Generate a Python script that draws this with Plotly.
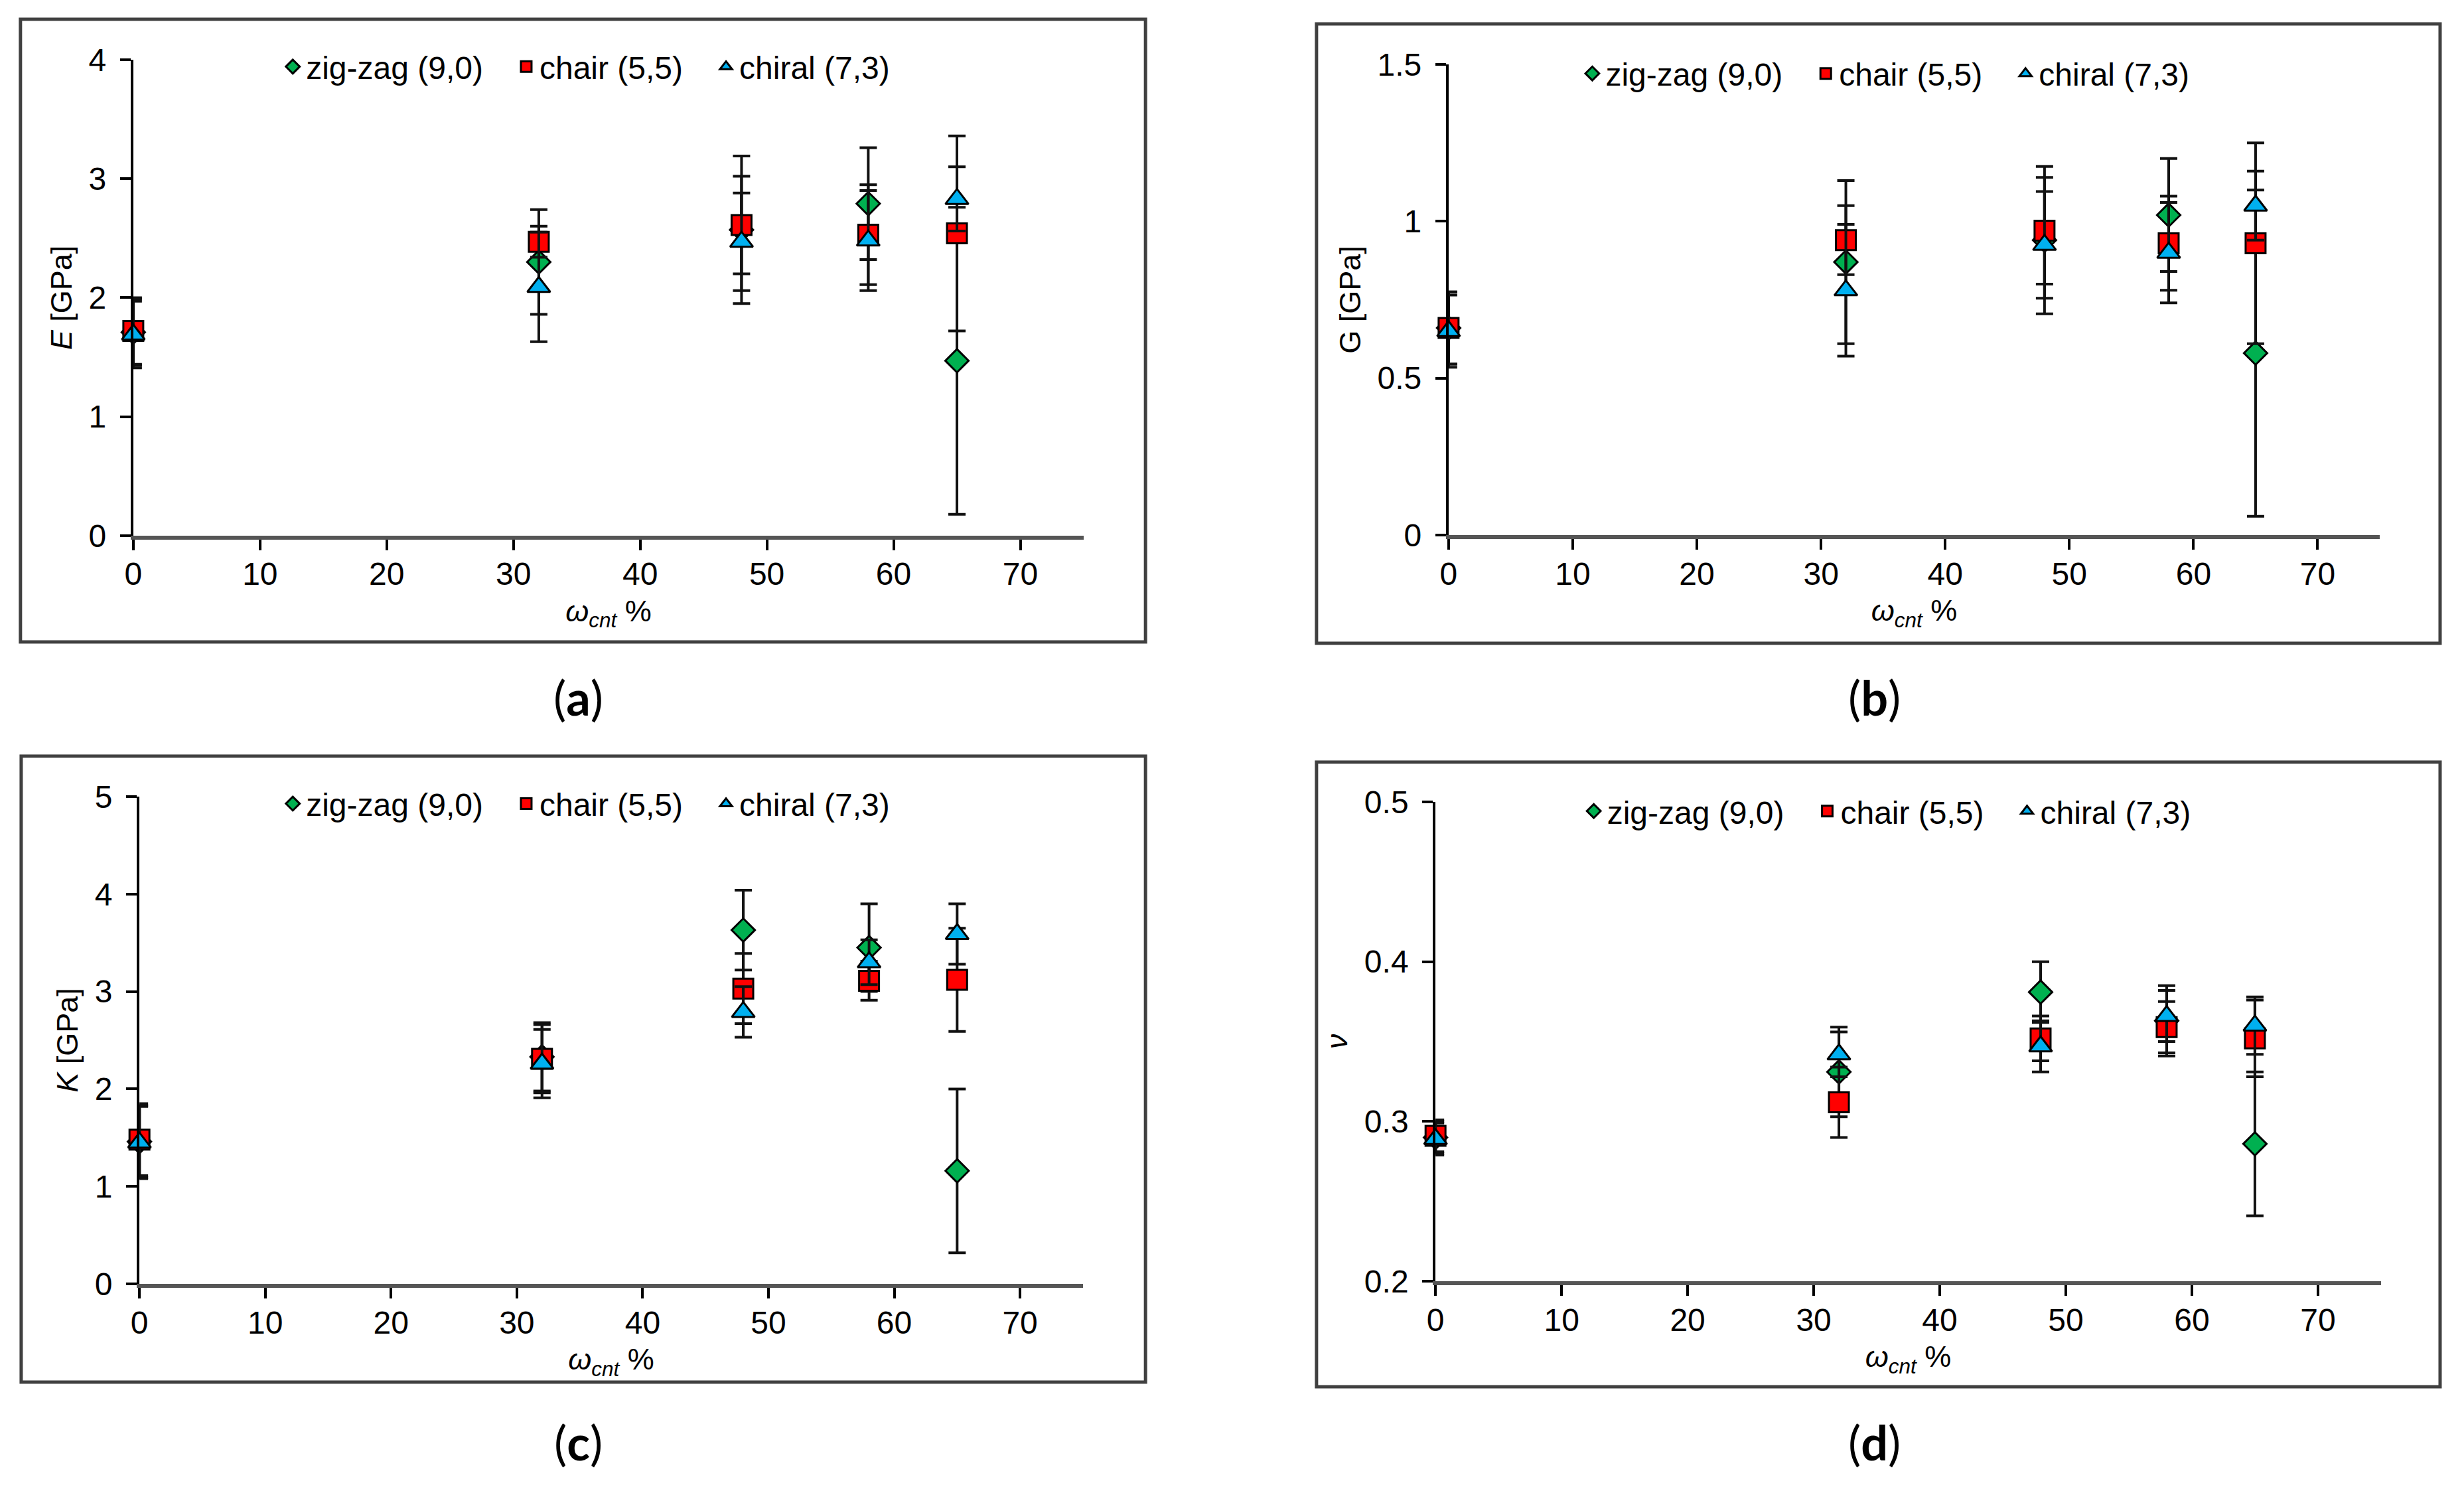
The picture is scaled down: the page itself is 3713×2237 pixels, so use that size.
import plotly.graph_objects as go
from plotly.subplots import make_subplots

# CNT mass fraction (%)
x_cnt = [0, 32, 48, 58, 65]

series_names = ["zig-zag (9,0)", "chair (5,5)", "chiral (7,3)"]

# (a) Young's modulus E [GPa]
E_zigzag = [1.71, 2.30, 2.57, 2.79, 1.47]
E_zigzag_err = [0.28, 0.44, 0.62, 0.47, 1.29]
E_chair = [1.72, 2.47, 2.61, 2.53, 2.54]
E_chair_err = [0.28, 0.13, 0.41, 0.42, 0.82]
E_chiral = [1.69, 2.09, 2.47, 2.48, 2.83]
E_chiral_err = [0.28, 0.46, 0.41, 0.42, 0.27]

# (b) Shear modulus G [GPa]
G_zigzag = [0.66, 0.87, 0.94, 1.02, 0.58]
G_zigzag_err = [0.115, 0.26, 0.235, 0.18, 0.52]
G_chair = [0.66, 0.94, 0.97, 0.93, 0.93]
G_chair_err = [0.115, 0.11, 0.17, 0.15, 0.32]
G_chiral = [0.65, 0.78, 0.925, 0.90, 1.05]
G_chiral_err = [0.115, 0.21, 0.17, 0.16, 0.11]

# (c) Bulk modulus K [GPa]
K_zigzag = [1.46, 2.33, 3.63, 3.45, 1.16]
K_zigzag_err = [0.37, 0.35, 0.41, 0.45, 0.84]
K_chair = [1.48, 2.31, 3.03, 3.11, 3.12]
K_chair_err = [0.37, 0.35, 0.36, 0.20, 0.53]
K_chiral = [1.45, 2.26, 2.79, 3.30, 3.59]
K_chiral_err = [0.37, 0.35, 0.26, 0.23, 0.31]

# (d) Poisson's ratio
nu_zigzag = [0.290, 0.331, 0.381, 0.363, 0.286]
nu_zigzag_err = [0.010, 0.028, 0.019, 0.022, 0.045]
nu_chair = [0.291, 0.312, 0.352, 0.359, 0.352]
nu_chair_err = [0.010, 0.022, 0.014, 0.016, 0.024]
nu_chiral = [0.289, 0.342, 0.347, 0.366, 0.360]
nu_chiral_err = [0.010, 0.014, 0.016, 0.016, 0.018]

FONT = "Liberation Sans, Arial, sans-serif"
W, H = 3713, 2237
PAD = "\u00a0\u00a0\u00a0"  # wider gap between legend entries, as in the original

styles = [
    dict(symbol="diamond", color="#00B050", size=27, pad=PAD),
    dict(symbol="square", color="#FF0000", size=30, pad=PAD),
    dict(symbol="triangle-up", color="#00B0F0", size=30, pad=""),
]

panels = [
    dict(row=1, col=1, legend="legend",
         data=[(E_zigzag, E_zigzag_err), (E_chair, E_chair_err), (E_chiral, E_chiral_err)]),
    dict(row=1, col=2, legend="legend2",
         data=[(G_zigzag, G_zigzag_err), (G_chair, G_chair_err), (G_chiral, G_chiral_err)]),
    dict(row=2, col=1, legend="legend3",
         data=[(K_zigzag, K_zigzag_err), (K_chair, K_chair_err), (K_chiral, K_chiral_err)]),
    dict(row=2, col=2, legend="legend4",
         data=[(nu_zigzag, nu_zigzag_err), (nu_chair, nu_chair_err), (nu_chiral, nu_chiral_err)]),
]

fig = make_subplots(rows=2, cols=2)

for p in panels:
    for name, st, (vals, errs) in zip(series_names, styles, p["data"]):
        fig.add_trace(go.Scatter(
            x=x_cnt, y=vals, name=name + st["pad"], mode="markers",
            legend=p["legend"], cliponaxis=False,
            marker=dict(symbol=st["symbol"], color=st["color"], size=st["size"],
                        line=dict(color="black", width=3)),
            error_y=dict(type="data", array=errs, visible=True,
                         color="#111111", thickness=4, width=13),
        ), row=p["row"], col=p["col"])

x_domains = [[0.0541, 0.4398], [0.5879, 0.9658], [0.0566, 0.4395], [0.5826, 0.9663]]
y_domains = [[0.6393, 0.9598], [0.6397, 0.9566], [0.1354, 0.4636], [0.1372, 0.4600]]
y_ranges = [[0, 4], [0, 1.5], [0, 5], [0.2, 0.5]]
y_dticks = [1, 0.5, 1, 0.1]
y_titles = ["<i>E</i> [GPa]", "G [GPa]", "<i>K</i> [GPa]", "<i>ν</i>"]

for i in range(4):
    sfx = "" if i == 0 else str(i + 1)
    fig.layout["xaxis" + sfx].update(
        domain=x_domains[i], range=[0, 75], dtick=10, tick0=0,
        showgrid=False, zeroline=False,
        showline=True, linecolor="#555555", linewidth=6,
        ticks="outside", ticklen=16, tickwidth=4, tickcolor="black",
        ticklabelstandoff=-5,
        tickfont=dict(family=FONT, size=48, color="black"),
        title=dict(text="<i>ω</i><sub><i>cnt</i></sub> %", standoff=16,
                   font=dict(family=FONT, size=45, color="black")),
    )
    fig.layout["yaxis" + sfx].update(
        domain=y_domains[i], range=y_ranges[i], dtick=y_dticks[i],
        showgrid=False, zeroline=False,
        showline=True, linecolor="black", linewidth=4,
        ticks="outside", ticklen=16, tickwidth=4, tickcolor="black",
        ticklabelstandoff=11,
        tickfont=dict(family=FONT, size=48, color="black"),
        title=dict(text=y_titles[i], standoff=12,
                   font=dict(family=FONT, size=45, color="black")),
    )

legend_pos = {"legend": (0.238, 0.955), "legend2": (0.7654, 0.9504),
              "legend3": (0.238, 0.4587), "legend4": (0.766, 0.4537)}
for key, (lx, ly) in legend_pos.items():
    fig.layout[key] = dict(orientation="h", x=lx, y=ly, xanchor="center", yanchor="middle",
                           bgcolor="rgba(0,0,0,0)",
                           font=dict(family=FONT, size=48, color="black"))

# panel frames
boxes = [(0.0083, 0.5677, 0.4649, 0.9870), (0.5343, 0.5668, 0.9903, 0.9839),
         (0.0086, 0.0693, 0.4649, 0.4908), (0.5343, 0.0662, 0.9903, 0.4868)]
for x0, y0, x1, y1 in boxes:
    fig.add_shape(type="rect", xref="paper", yref="paper", x0=x0, y0=y0, x1=x1, y1=y1,
                  line=dict(color="#404040", width=5), fillcolor="rgba(0,0,0,0)", layer="below")

# panel labels
for txt, lx, ly in [("a", 0.2346, 0.5306), ("b", 0.7608, 0.5306),
                    ("c", 0.2346, 0.0290), ("d", 0.7608, 0.0290)]:
    fig.add_annotation(text=f"(<b>{txt}</b>)", x=lx, y=ly, xref="paper", yref="paper",
                       showarrow=False, xanchor="center", yanchor="middle",
                       font=dict(family="Lato, Open Sans, sans-serif", size=72, color="black"))

fig.update_layout(
    width=W, height=H,
    margin=dict(l=0, r=0, t=0, b=0, autoexpand=False),
    paper_bgcolor="white", plot_bgcolor="white",
)

# the page body has a default 8px margin; drop it so the figure fills the window
fig.write_html("out.html", config={"displayModeBar": False},
               post_script="document.body.style.margin = '0px';")
